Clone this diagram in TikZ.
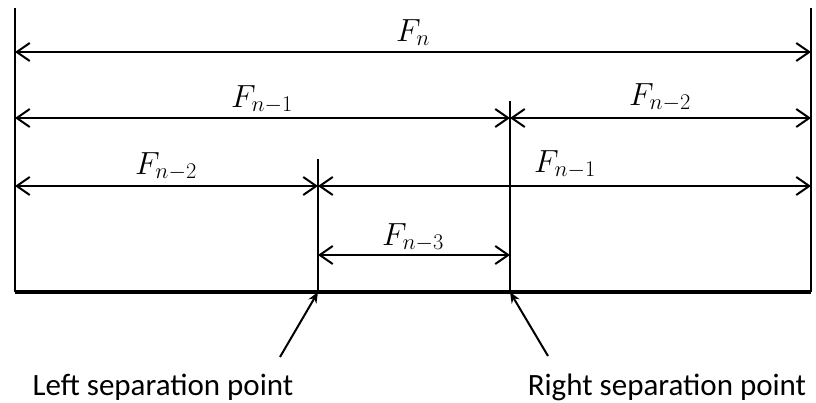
\RequirePackage{fix-cm}
\documentclass[tikz,border=0pt]{standalone}
\usepackage{fontspec}
\setmainfont{Carlito}
\usetikzlibrary{arrows.meta}
\begin{document}
\begin{tikzpicture}[x=1pt,y=-1pt,
  dim/.style={line width=2pt,{Straight Barb[length=13pt,width=18pt,line width=2pt]}-{Straight Barb[length=13pt,width=18pt,line width=2pt]}},
  wall/.style={line width=2pt},
  base/.style={line width=4.5pt},
  pointer/.style={line width=2pt,-{Stealth[length=11pt,width=9pt]}},
  lab/.style={anchor=base,inner sep=0pt,font=\fontsize{32}{38}\selectfont},
  txt/.style={anchor=base,inner sep=0pt,font=\fontsize{31}{37}\selectfont}]
\useasboundingbox (0,0) rectangle (816,402);
% key points
\coordinate (LT) at (15,8);
\coordinate (LB) at (15,292);
\coordinate (RT) at (811,8);
\coordinate (RB) at (811,292);
\coordinate (ST) at (318,159);
\coordinate (SB) at (318,292);
\coordinate (QT) at (510,101);
\coordinate (QB) at (510,292);
% row endpoints
\coordinate (a1) at (15,52);  \coordinate (b1) at (811,52);
\coordinate (a2) at (15,118); \coordinate (m2) at (510,118); \coordinate (b2) at (811,118);
\coordinate (a3) at (15,186); \coordinate (m3) at (318,186); \coordinate (b3) at (811,186);
\coordinate (a4) at (318,255); \coordinate (b4) at (510,255);
% walls
\draw[wall] (LT) -- (LB);
\draw[wall] (RT) -- (RB);
\draw[wall] (ST) -- (SB);
\draw[wall] (QT) -- (QB);
\draw[base] (LB) -- (RB);
% dimension arrows
\draw[dim] (a1) -- (b1);
\draw[dim] (a2) -- (m2);
\draw[dim] (m2) -- (b2);
\draw[dim] (a3) -- (m3);
\draw[dim] (m3) -- (b3);
\draw[dim] (a4) -- (b4);
% labels
\node[lab] (l1) at (413,41) {$F_n$};
\node[lab] (l2a) at (262,107) {$F_{n-1}$};
\node[lab] (l2b) at (660,105) {$F_{n-2}$};
\node[lab] (l3a) at (166,174) {$F_{n-2}$};
\node[lab] (l3b) at (565,172) {$F_{n-1}$};
\node[lab] (l4) at (413,245) {$F_{n-3}$};
% pointers
\coordinate (p1) at (280,357);
\coordinate (p2) at (548,356);
\draw[pointer] (p1) -- (SB);
\draw[pointer] (p2) -- (QB);
\node[txt] (tl) at (163,395) {Left separation point};
\node[txt] (tr) at (667,395) {Right separation point};
\end{tikzpicture}
\end{document}
